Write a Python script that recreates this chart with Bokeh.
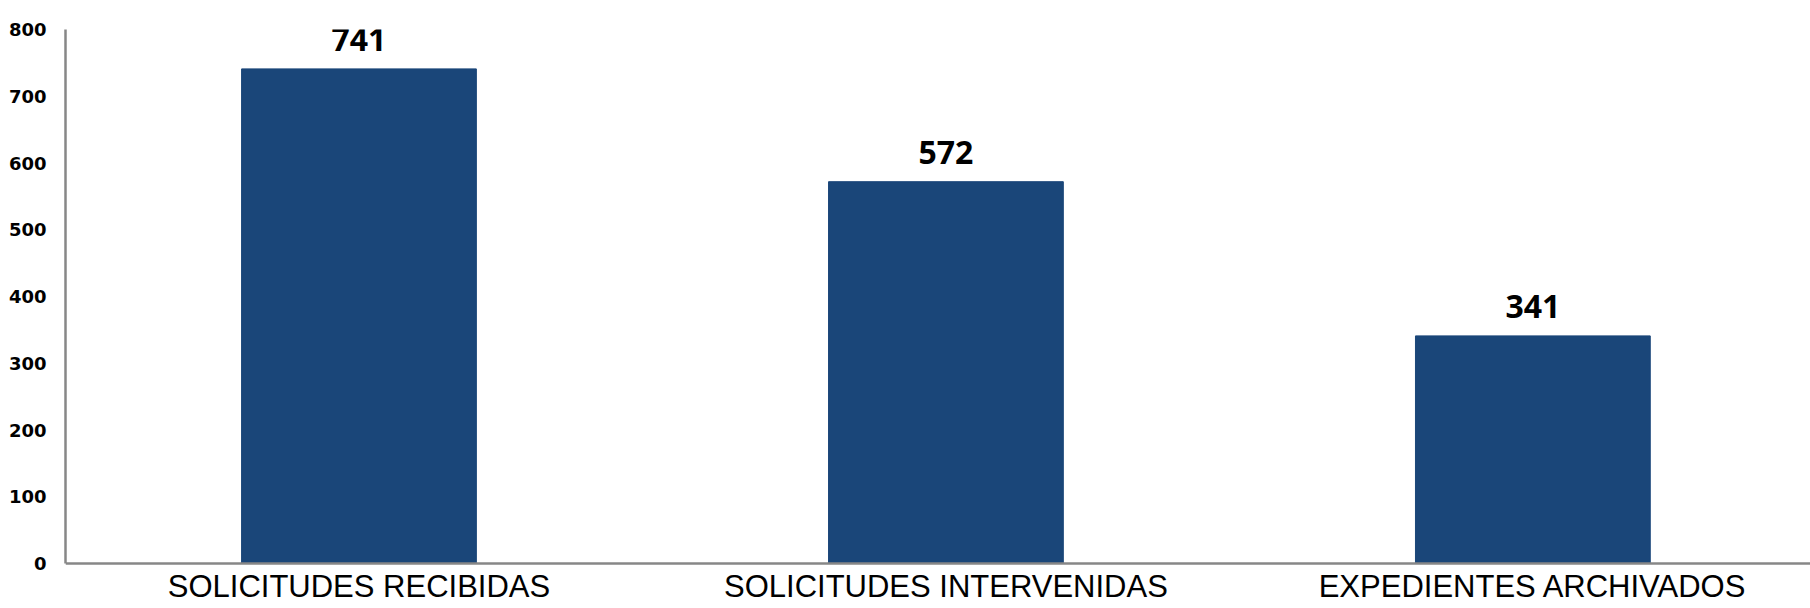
from bokeh.plotting import figure
from bokeh.models import ColumnDataSource, Range1d, FixedTicker, LabelSet
from bokeh.core.properties import value
from bokeh.embed import file_html
from bokeh.resources import INLINE

categories = ["SOLICITUDES RECIBIDAS", "SOLICITUDES INTERVENIDAS", "EXPEDIENTES ARCHIVADOS"]
values = [741, 572, 341]
y_ticks = [0, 100, 200, 300, 400, 500, 600, 700, 800]

xs = [i + 0.5 for i in range(len(categories))]
src = ColumnDataSource(dict(x=xs, top=values, label=[str(v) for v in values]))

# frame spans from the top of the value axis down to the page bottom;
# the category axis sits at y = 0 inside the frame
p = figure(width=1810, height=608, output_backend="svg", toolbar_location=None,
           x_range=Range1d(0, 2.973), y_range=Range1d(-67.4, 800),
           min_border_left=65, min_border_right=0, min_border_top=29, min_border_bottom=0)
p.outline_line_color = None
p.grid.visible = False
p.background_fill_color = "white"

p.vbar(x="x", top="top", bottom=0, width=0.4, source=src,
       fill_color="#1a4679", line_color="#1a4679", line_width=1)

labels = LabelSet(x="x", y="top", text="label", source=src, text_align="center",
                  text_baseline="alphabetic", y_offset=18, text_font=value("Open Sans"),
                  text_font_style="bold", text_font_size="32px", text_color="black")
p.add_layout(labels)

p.xaxis.fixed_location = 0
p.xaxis.ticker = FixedTicker(ticks=xs)
p.xaxis.major_label_overrides = {x: c for x, c in zip(xs, categories)}
p.xaxis.major_label_text_font = "Liberation Sans"
p.xaxis.major_label_text_font_size = "31px"
p.xaxis.major_label_text_color = "black"
p.xaxis.major_label_standoff = 5
p.xaxis.major_tick_out = 0
p.xaxis.major_tick_in = 0
p.xaxis.major_tick_line_color = None
p.xaxis.minor_tick_line_color = None
p.xaxis.axis_line_color = "#878787"
p.xaxis.axis_line_width = 2.5

p.yaxis.bounds = (0, 800)
p.yaxis.ticker = FixedTicker(ticks=y_ticks)
p.yaxis.major_label_text_font = "DejaVu Sans"
p.yaxis.major_label_text_font_style = "bold"
p.yaxis.major_label_text_font_size = "18px"
p.yaxis.major_label_text_color = "black"
p.yaxis.major_label_standoff = 19
p.yaxis.major_tick_out = 0
p.yaxis.major_tick_in = 0
p.yaxis.major_tick_line_color = None
p.yaxis.minor_tick_line_color = None
p.yaxis.axis_line_color = "#878787"
p.yaxis.axis_line_width = 2.5

open("out.html", "w").write(file_html(p, INLINE))
